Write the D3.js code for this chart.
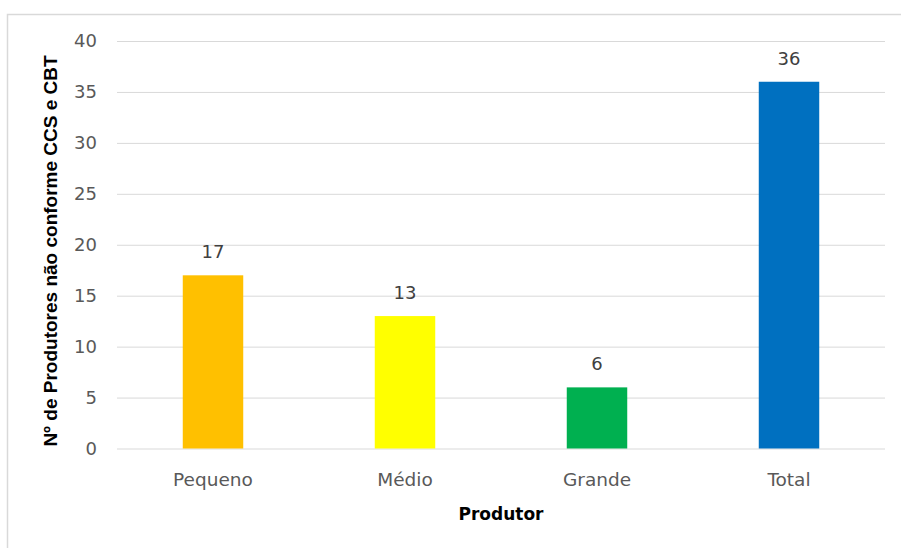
<!DOCTYPE html>
<html>
<head>
<meta charset="utf-8">
<script src="https://cdn.jsdelivr.net/npm/d3@7"></script>
<style>
  html, body { margin: 0; padding: 0; background: #ffffff; }
  svg { display: block; }
</style>
</head>
<body>
<svg id="chart" width="901" height="548"></svg>
<script>
// Producers not compliant with CCS and CBT, by producer size
const categories = ["Pequeno", "Médio", "Grande", "Total"];
const values = [17, 13, 6, 36];
const barColors = ["#FFC000", "#FFFF00", "#00B050", "#0070C0"];
const yTicks = [0, 5, 10, 15, 20, 25, 30, 35, 40];

const svg = d3.select("#chart");
const W = 901, H = 548;
const margin = { left: 117, right: 16, top: 41, bottom: 99.5 };

// chart area frame
svg.append("rect")
  .attr("x", 7.5).attr("y", 14.5)
  .attr("width", W + 20).attr("height", H + 20)
  .attr("fill", "none").attr("stroke", "#d9d9d9").attr("stroke-width", 1.5);

const x = d3.scaleBand()
  .domain(categories)
  .range([margin.left, W - margin.right])
  .paddingInner(0.685)
  .paddingOuter(0.3425);

const y = d3.scaleLinear()
  .domain([0, 40])
  .range([H - margin.bottom, margin.top]);

// horizontal gridlines
const yAxis = d3.axisLeft(y)
  .tickValues(yTicks)
  .tickSize(-(W - margin.right - margin.left))
  .tickPadding(20);

const gy = svg.append("g")
  .attr("transform", `translate(${margin.left},0)`)
  .call(yAxis);
gy.select(".domain").remove();
gy.selectAll(".tick line").attr("stroke", "#d9d9d9").attr("stroke-width", 1);
gy.selectAll(".tick text")
  .attr("fill", "#595959")
  .attr("font-family", "'DejaVu Sans', sans-serif")
  .attr("font-size", 18);

// category axis
const xAxis = d3.axisBottom(x).tickSize(0).tickPadding(24);
const gx = svg.append("g")
  .attr("transform", `translate(0,${H - margin.bottom})`)
  .call(xAxis);
gx.select(".domain").remove();
gx.selectAll(".tick text")
  .attr("fill", "#595959")
  .attr("font-family", "'DejaVu Sans', sans-serif")
  .attr("font-size", 18.5);

// bars
svg.append("g").selectAll("rect")
  .data(values)
  .join("rect")
  .attr("x", (d, i) => x(categories[i]))
  .attr("y", d => y(d))
  .attr("width", x.bandwidth())
  .attr("height", d => y(0) - y(d))
  .attr("fill", (d, i) => barColors[i]);

// value labels
svg.append("g").selectAll("text")
  .data(values)
  .join("text")
  .attr("x", (d, i) => x(categories[i]) + x.bandwidth() / 2)
  .attr("y", d => y(d) - 17)
  .attr("text-anchor", "middle")
  .attr("fill", "#404040")
  .attr("font-family", "'DejaVu Sans', sans-serif")
  .attr("font-size", 18)
  .text(d => d);

// axis titles
svg.append("text")
  .attr("x", 501)
  .attr("y", 520)
  .attr("text-anchor", "middle")
  .attr("fill", "#000000")
  .attr("font-family", "'DejaVu Sans', sans-serif")
  .attr("font-weight", "bold")
  .attr("font-size", 17)
  .text("Produtor");

svg.append("text")
  .attr("transform", "translate(57,251) rotate(-90)")
  .attr("text-anchor", "middle")
  .attr("fill", "#000000")
  .attr("font-family", "'Liberation Sans', sans-serif")
  .attr("font-weight", "bold")
  .attr("font-size", 19)
  .text("Nº de Produtores não conforme CCS e CBT");
</script>
</body>
</html>
